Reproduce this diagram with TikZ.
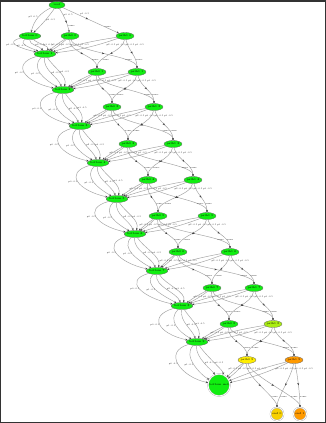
\documentclass[tikz,border=0pt]{standalone}
\usetikzlibrary{arrows.meta,decorations.markings,shapes.geometric}
\definecolor{ggreen}{HTML}{11EE11}
\definecolor{ygreen}{HTML}{AAEE11}
\definecolor{yel}{HTML}{FFEE00}
\definecolor{ora}{HTML}{FF9A00}
\definecolor{gold}{HTML}{F7D000}
\definecolor{edgec}{HTML}{A0A0A0}
\begin{document}
\begin{tikzpicture}[x=1bp,y=-1bp,
  st/.style={ellipse, fill=ggreen, draw=gray!80!black, line width=0.3pt, inner sep=0pt,
    minimum width=16bp, minimum height=7bp, font=\fontsize{2.8}{3}\selectfont},
  dc/.style={circle, fill=#1, draw=gray!70, line width=0.3pt, double=white, double distance=0.8bp,
    inner sep=0pt, font=\fontsize{2.8}{3}\selectfont},
  ed/.style={draw=edgec, line width=0.45pt, -{Stealth[length=2.4bp,width=1.9bp,black!75]}},
  lb/.style={font=\fontsize{2.2}{2.5}\selectfont, inner sep=0.3pt, text=black!85},
  midarr/.style={postaction={decorate}, decoration={markings,
    mark=at position #1 with {\arrow{Stealth[length=2.4bp,width=1.9bp,black!75]}}}},
]
\useasboundingbox (0,0) rectangle (326,423);
\fill[white] (0,0) rectangle (326,423);
\draw[black!80, line width=1.5bp] (0.75,0.75) rectangle (325.25,422.25);

% nodes
\node[st] (root) at (57,5) {root};
\foreach \k/\x/\y in {0/30/36,1/45/54,2/63/90,3/80/126,4/98/163,5/117/199,6/135/234,7/157/271,8/182/306,9/197/342}
  \node[st] (b\k) at (\x,\y) {bottom \k};
\foreach \k/\xa/\xb/\y in {0/70/125/36,1/97/137/72,2/112/154/107,3/128/173/144,4/148/193/180,5/158/207/216,6/178/230/252,7/212/254/288}{
  \node[st] (pa\k) at (\xa,\y) {path0 \k};
  \node[st] (pb\k) at (\xb,\y) {path1 \k};
}
\node[st] (pa8) at (229,324) {path0 8};
\node[st, fill=ygreen] (pb8) at (273,324) {path1 8};
\node[st, fill=yel] (pa9) at (247,360) {path0 9};
\node[st, fill=ora] (pb9) at (294,360) {path1 9};
\node[dc=ggreen, minimum size=22bp] (b10) at (219,385) {bottom end};
\node[dc=gold, minimum size=13bp] (pa10) at (277,414) {end 0};
\node[dc=ora, minimum size=13bp] (pb10) at (300,414) {end 1};

% root edges
\draw[ed] (root) to[bend right=25] node[lb,pos=.5,left] {p2 :0.5} (b0);
\draw[ed] (root) to[bend left=5] node[lb,pos=.45,right] {p3 :0.5} (b0);
\draw[ed,midarr=.62] (root) .. controls +(8,12) and +(-2,-10) .. node[lb,pos=.25,right] {p0 :0.5} node[lb,pos=.72,right] {same} (pa0);
\draw[ed,midarr=.45] (root) -- node[lb,pos=.3,above right] {p1 :0.5} node[lb,pos=.8,above] {same} (pb0);

% bottom chain
\draw[ed] (b0) .. controls +(-26,6) and +(-26,-6) .. node[lb,pos=.5,left] {p0 :0.5} (b1);
\draw[ed] (b0) .. controls +(-12,8) and +(-14,-6) .. node[lb,pos=.5,left] {p1 :0.5} (b1);
\draw[ed] (b0) .. controls +(-1,9) and +(-5,-8) .. node[lb,pos=.5,right] {p2 :0.5} (b1);
\draw[ed] (b0) .. controls +(8,8) and +(5,-8) .. node[lb,pos=.5,right] {p3 :0.5} (b1);
\foreach \k in {1,...,9}{
  \pgfmathtruncatemacro\n{\k+1}
  \draw[ed] (b\k) .. controls +(-35,10) and +(-38,-8) .. node[lb,pos=.5,left] {p0 :0.5} (b\n);
  \draw[ed] (b\k) .. controls +(-15,14) and +(-18,-10) .. node[lb,pos=.5,left] {p1 :0.5} (b\n);
  \draw[ed] (b\k) .. controls +(-2,16) and +(-6,-14) .. node[lb,pos=.5,right] {p2 :0.5} (b\n);
  \draw[ed] (b\k) .. controls +(9,14) and +(5,-14) .. node[lb,pos=.5,right] {p3 :0.5} (b\n);
}

% path edges
\foreach \k in {0,...,9}{
  \pgfmathtruncatemacro\n{\k+1}
  \foreach \p in {pa,pb}{
    \draw[ed] (\p\k) to[bend left=6] (b\n);
    \draw[ed] (\p\k) to[bend right=4] (b\n);
    \draw[ed,midarr=.5] (\p\k) .. controls +(-2,16) and +(0,-16) .. node[lb,pos=.72,right] {same} (pa\n);
    \draw[ed,midarr=.5] (\p\k) .. controls +(4,16) and +(0,-16) .. node[lb,pos=.72,right] {same} (pb\n);
    \node[lb] at ([shift={(-14,8.5)}]\p\k.center) {p2 :0.5};
    \node[lb] at ([shift={(-4.5,8.5)}]\p\k.center) {p3 :0.5};
    \node[lb] at ([shift={(5,8.5)}]\p\k.center) {p0 :0.5};
    \node[lb] at ([shift={(14.5,8.5)}]\p\k.center) {p1 :0.5};
  }
}
\end{tikzpicture}
\end{document}
